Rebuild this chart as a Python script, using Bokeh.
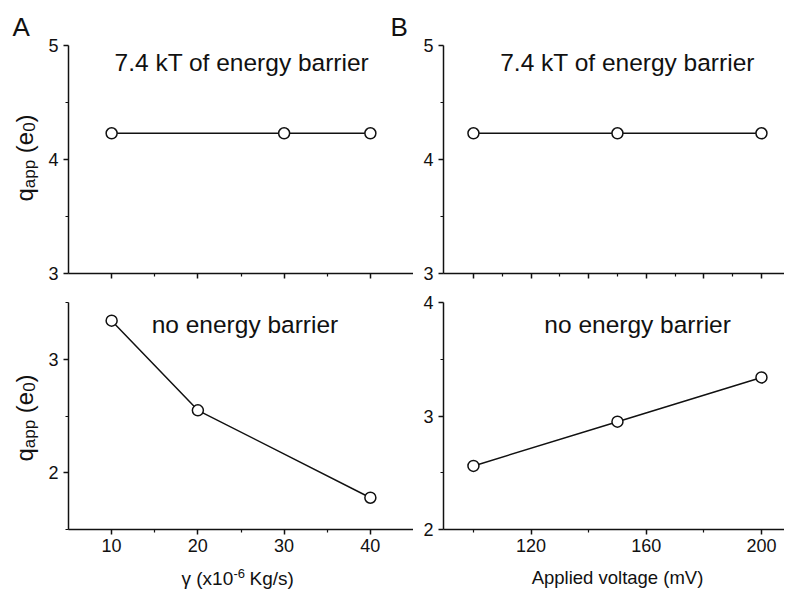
from bokeh.plotting import figure
from bokeh.layouts import column, row
from bokeh.models import Label, Range1d, FixedTicker, CustomLabelingPolicy, Div
from bokeh.embed import file_html
from bokeh.resources import INLINE

# ---------------- data ----------------
gamma_top = [10, 30, 40]
q_gamma_top = [4.23, 4.23, 4.23]
gamma_bottom = [10, 20, 40]
q_gamma_bottom = [3.34, 2.55, 1.78]
voltage_top = [100, 150, 200]
q_voltage_top = [4.23, 4.23, 4.23]
voltage_bottom = [100, 150, 200]
q_voltage_bottom = [2.56, 2.95, 3.34]

gamma_major = [10, 20, 30, 40]
gamma_minor = [15, 25, 35]
volt_top_major = [100, 120, 140, 160, 180, 200]
volt_top_minor = [110, 130, 150, 170, 190]
volt_bot_major = [120, 160, 200]
volt_bot_minor = [100, 140, 180]
q_top_major = [3, 4, 5]
q_top_minor = [3.5, 4.5]
q_bl_major = [2, 3]
q_bl_minor = [1.5, 2.5, 3.5]
q_br_major = [2, 3, 4]
q_br_minor = [2.5, 3.5]

FONT = "Liberation Sans"
INK = "#111111"

TOP_H = 37
BOTTOM_H = 35
LEFT_W = 44
TOTAL_W = 784
ROW1_H = 8 + 228 + 17
ROW2_H = 12 + 227 + 31


def make_fig(fw, fh, xr, yr, borders, xmaj, xmin, ymaj, ymin, xlabels=True):
    bl, bt, br, bb = borders
    p = figure(frame_width=fw, frame_height=fh,
               x_range=Range1d(*xr), y_range=Range1d(*yr),
               min_border_left=bl, min_border_top=bt,
               min_border_right=br, min_border_bottom=bb, title=None,
               output_backend="svg", toolbar_location=None, tools="")
    p.outline_line_color = None
    p.grid.visible = False
    for ax in (p.xaxis[0], p.yaxis[0]):
        ax.axis_line_color = INK
        ax.axis_line_width = 1.5
        ax.major_tick_line_color = INK
        ax.major_tick_line_width = 1.5
        ax.minor_tick_line_color = INK
        ax.minor_tick_line_width = 1.2
        ax.major_tick_in = 0
        ax.major_tick_out = 5
        ax.minor_tick_in = 0
        ax.minor_tick_out = 3
        ax.major_label_text_font = FONT
        ax.major_label_text_font_size = "18px"
        ax.major_label_text_color = INK
        ax.major_label_standoff = 4
    p.yaxis[0].major_label_standoff = 5
    p.xaxis[0].ticker = FixedTicker(ticks=xmaj, minor_ticks=xmin)
    p.yaxis[0].ticker = FixedTicker(ticks=ymaj, minor_ticks=ymin)
    if not xlabels:
        p.xaxis[0].major_label_text_font_size = "1px"
        p.xaxis[0].major_label_standoff = 0
        p.xaxis[0].major_label_policy = CustomLabelingPolicy(code="return []")
    return p


def series(p, xs, ys):
    p.line(xs, ys, line_color=INK, line_width=1.5)
    p.scatter(xs, ys, marker="circle", size=11, fill_color="white",
              line_color=INK, line_width=1.5)


def note(p, x, y, text, size, align="left"):
    p.add_layout(Label(x=x, y=y, text=text, text_font=FONT,
                       text_font_size=f"{size}px", text_align=align,
                       text_baseline="middle", text_color=INK))


def strip(w, h):
    s = figure(width=w, height=h, x_range=Range1d(0, w), y_range=Range1d(0, h),
               min_border=0, x_axis_type=None, y_axis_type=None, title=None,
               output_backend="svg", toolbar_location=None, tools="")
    s.outline_line_color = None
    s.grid.visible = False
    return s


def ylabel_div(h, center):
    sub = "font-size:17px;vertical-align:-5px;line-height:0;"
    html = (
        f'<div style="position:relative;width:{LEFT_W}px;height:{h}px;">'
        f'<div style="position:absolute;left:11px;top:{center}px;'
        'writing-mode:vertical-rl;transform:translateY(-50%) rotate(180deg);'
        f"font-family:'{FONT}';font-size:24px;line-height:28px;color:{INK};"
        'white-space:nowrap;">'
        f'q<span style="{sub}">app</span>&nbsp;(e<span style="{sub}">0</span>)'
        '</div></div>'
    )
    return Div(text=html, width=LEFT_W, height=h, margin=0)


# ---------------- panels ----------------
tl = make_fig(345, 228, (5, 45), (3, 5), (24, 8, 0, 17),
              gamma_major, gamma_minor, q_top_major, q_top_minor, xlabels=False)
series(tl, gamma_top, q_gamma_top)
note(tl, 25.1, 4.852, "7.4 kT of energy barrier", 24.5, align="center")

tr = make_fig(341, 228, (89.6, 208.0), (3, 5), (30, 8, 0, 17),
              volt_top_major, volt_top_minor, q_top_major, q_top_minor, xlabels=False)
series(tr, voltage_top, q_voltage_top)
note(tr, 153.5, 4.852, "7.4 kT of energy barrier", 24.5, align="center")

bl = make_fig(345, 227, (5, 45), (1.5, 3.5), (24, 12, 0, 31),
              gamma_major, gamma_minor, q_bl_major, q_bl_minor)
series(bl, gamma_bottom, q_gamma_bottom)
note(bl, 25.46, 3.305, "no energy barrier", 24.5, align="center")

br = make_fig(341, 227, (89.6, 208.0), (2, 4), (30, 12, 0, 31),
              volt_bot_major, volt_bot_minor, q_br_major, q_br_minor)
series(br, voltage_bottom, q_voltage_bottom)
note(br, 157, 3.805, "no energy barrier", 24.5, align="center")

# ---------------- text strips (data units = pixels, y measured upward) ----------------
top = strip(TOTAL_W, TOP_H)
note(top, 12, 10.5, "A", 26)
note(top, 390, 10.5, "B", 26)

bottom = strip(TOTAL_W, BOTTOM_H)
note(bottom, 181, 16.6, "γ (x10", 19)
note(bottom, 233, 21.6, "-6", 13)
note(bottom, 249, 16.6, "Kg/s)", 19)
note(bottom, 617, 18.5, "Applied voltage (mV)", 18.5, align="center")

left = column(ylabel_div(ROW1_H, 121), ylabel_div(ROW2_H, 128))
grid = column(row(tl, tr), row(bl, br))

layout = column(top, row(left, grid), bottom)

open("out.html", "w").write(file_html(layout, INLINE))
